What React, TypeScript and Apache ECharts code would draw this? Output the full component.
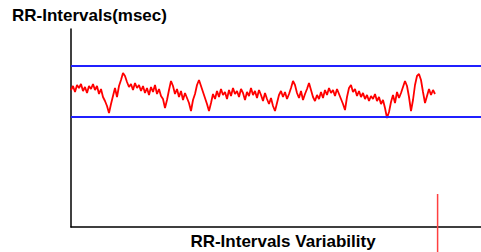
import React, { useEffect, useRef } from "react";
import * as echarts from "echarts";

const rrValues: number[] = [
  685, 705, 675, 710, 695, 715, 680, 700, 670, 705,
  690, 715, 685, 705, 665, 690, 650, 630, 605, 570,
  615, 655, 695, 650, 705, 735, 770, 755, 725, 700,
  715, 685, 720, 695, 710, 680, 705, 670, 695, 660,
  700, 675, 710, 665, 690, 655, 640, 595, 635, 685,
  730, 705, 665, 690, 650, 680, 635, 670, 645, 620,
  580, 635, 665, 710, 735, 705, 675, 645, 615, 580,
  620, 665, 640, 680, 650, 690, 660, 675, 640, 685,
  655, 695, 665, 680, 650, 690, 670, 635, 675, 655,
  695, 660, 680, 645, 685, 660, 630, 670, 640, 615,
  645, 605, 580, 620, 660, 680, 650, 675, 640, 665,
  695, 730, 710, 670, 645, 680, 635, 665, 690, 720,
  685, 650, 630, 660, 640, 675, 645, 685, 660, 695,
  670, 685, 655, 690, 665, 640, 615, 585, 650, 695,
  710, 675, 690, 655, 680, 650, 670, 640, 660, 630,
  655, 640, 665, 630, 650, 615, 635, 595, 545, 575,
  625, 660, 620, 675, 645, 670, 700, 730, 705, 650,
  580, 635, 710, 755, 765, 735, 675, 620, 655, 690,
  660, 685, 665,
];

const upperLimit = 805;
const lowerLimit = 550;
const cursorIndex = 183.3;
const cursorRange: number[] = [165, -125];
const xMax = 205;
const yMax = 990;

const titleText = "RR-Intervals(msec)";
const xTitleText = "RR-Intervals Variability";

export default function App() {
  const ref = useRef<HTMLDivElement>(null);
  useEffect(() => {
    if (!ref.current) return;
    const chart = echarts.init(ref.current, undefined, { renderer: "svg" });
    const font = "'Liberation Sans', Arial, sans-serif";
    chart.setOption({
      animation: false,
      backgroundColor: "#ffffff",
      grid: { left: 71, right: 0, top: 29, bottom: 25 },
      xAxis: {
        type: "value",
        min: 0,
        max: xMax,
        axisLine: { show: true, onZero: false, lineStyle: { color: "#000", width: 1.5 } },
        axisTick: { show: false },
        axisLabel: { show: false },
        splitLine: { show: false },
      },
      yAxis: {
        type: "value",
        min: 0,
        max: yMax,
        axisLine: { show: true, onZero: false, lineStyle: { color: "#000", width: 1.5 } },
        axisTick: { show: false },
        axisLabel: { show: false },
        splitLine: { show: false },
      },
      graphic: [
        {
          type: "text",
          left: 12,
          top: 7,
          style: { text: titleText, font: `bold 17px ${font}`, fill: "#000" },
        },
        {
          type: "text",
          x: 283,
          y: 241,
          style: {
            text: xTitleText,
            font: `bold 17px ${font}`,
            fill: "#000",
            textAlign: "center",
            textVerticalAlign: "middle",
          },
        },
      ],
      series: [
        {
          type: "line",
          data: rrValues.map((v, i) => [i, v]),
          showSymbol: false,
          symbol: "none",
          lineStyle: { color: "#ff0000", width: 1.8 },
          silent: true,
          markLine: {
            silent: true,
            symbol: "none",
            label: { show: false },
            lineStyle: { color: "#2020ff", width: 2, type: "solid" },
            data: [{ yAxis: upperLimit }, { yAxis: lowerLimit }],
          },
        },
        {
          type: "line",
          data: cursorRange.map((v) => [cursorIndex, v]),
          symbol: "none",
          clip: false,
          lineStyle: { color: "#ff4040", width: 1.5 },
          silent: true,
        },
      ],
    });
    return () => chart.dispose();
  }, []);
  return (
    <div
      ref={ref}
      style={{ position: "fixed", left: 0, top: 0, width: 481, height: 252 }}
    />
  );
}
